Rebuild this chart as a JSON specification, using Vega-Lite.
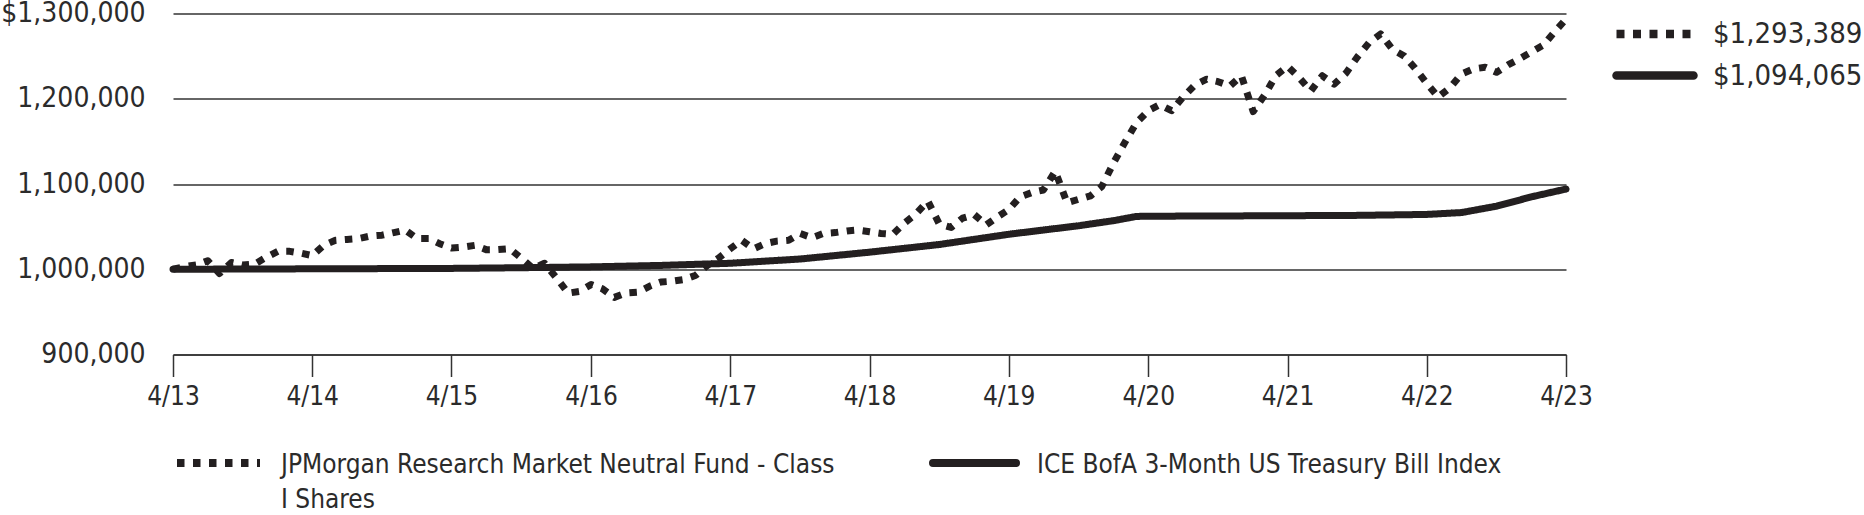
{
  "$schema": "https://vega.github.io/schema/vega-lite/v6.json",
  "width": 1393,
  "height": 341,
  "autosize": {"type": "none"},
  "padding": {"left": 173, "top": 13.5, "right": 298, "bottom": 160.5},
  "background": "white",
  "config": {
    "view": {"stroke": null},
    "font": "DejaVu Sans Condensed, Liberation Sans Narrow, DejaVu Sans"
  },
  "datasets": {
    "ends": [
      {"series": "fund", "end": "$1,293,389"},
      {"series": "index", "end": "$1,094,065"}
    ],
    "main": [
      {"date": "2013-04-01", "series": "fund", "value": 1000000},
      {"date": "2013-05-01", "series": "fund", "value": 1003000},
      {"date": "2013-06-01", "series": "fund", "value": 1005000},
      {"date": "2013-07-01", "series": "fund", "value": 1010000},
      {"date": "2013-08-01", "series": "fund", "value": 995000},
      {"date": "2013-09-01", "series": "fund", "value": 1008000},
      {"date": "2013-10-01", "series": "fund", "value": 1005000},
      {"date": "2013-11-01", "series": "fund", "value": 1006000},
      {"date": "2013-12-01", "series": "fund", "value": 1014000},
      {"date": "2014-01-01", "series": "fund", "value": 1021000},
      {"date": "2014-02-01", "series": "fund", "value": 1021000},
      {"date": "2014-03-01", "series": "fund", "value": 1019000},
      {"date": "2014-04-01", "series": "fund", "value": 1016000},
      {"date": "2014-05-01", "series": "fund", "value": 1028000},
      {"date": "2014-06-01", "series": "fund", "value": 1034000},
      {"date": "2014-07-01", "series": "fund", "value": 1035000},
      {"date": "2014-08-01", "series": "fund", "value": 1036000},
      {"date": "2014-09-01", "series": "fund", "value": 1039000},
      {"date": "2014-10-01", "series": "fund", "value": 1040000},
      {"date": "2014-11-01", "series": "fund", "value": 1043000},
      {"date": "2014-12-01", "series": "fund", "value": 1046000},
      {"date": "2015-01-01", "series": "fund", "value": 1036000},
      {"date": "2015-02-01", "series": "fund", "value": 1036000},
      {"date": "2015-03-01", "series": "fund", "value": 1030000},
      {"date": "2015-04-01", "series": "fund", "value": 1025000},
      {"date": "2015-05-01", "series": "fund", "value": 1026000},
      {"date": "2015-06-01", "series": "fund", "value": 1028000},
      {"date": "2015-07-01", "series": "fund", "value": 1023000},
      {"date": "2015-08-01", "series": "fund", "value": 1023000},
      {"date": "2015-09-01", "series": "fund", "value": 1024000},
      {"date": "2015-10-01", "series": "fund", "value": 1013000},
      {"date": "2015-11-01", "series": "fund", "value": 1001000},
      {"date": "2015-12-01", "series": "fund", "value": 1007000},
      {"date": "2016-01-01", "series": "fund", "value": 990000},
      {"date": "2016-02-01", "series": "fund", "value": 972000},
      {"date": "2016-03-01", "series": "fund", "value": 974000},
      {"date": "2016-04-01", "series": "fund", "value": 982000},
      {"date": "2016-05-01", "series": "fund", "value": 977000},
      {"date": "2016-06-01", "series": "fund", "value": 967000},
      {"date": "2016-07-01", "series": "fund", "value": 972000},
      {"date": "2016-08-01", "series": "fund", "value": 973000},
      {"date": "2016-09-01", "series": "fund", "value": 980000},
      {"date": "2016-10-01", "series": "fund", "value": 985000},
      {"date": "2016-11-01", "series": "fund", "value": 986000},
      {"date": "2016-12-01", "series": "fund", "value": 988000},
      {"date": "2017-01-01", "series": "fund", "value": 993000},
      {"date": "2017-02-01", "series": "fund", "value": 1005000},
      {"date": "2017-03-01", "series": "fund", "value": 1013000},
      {"date": "2017-04-01", "series": "fund", "value": 1024000},
      {"date": "2017-05-01", "series": "fund", "value": 1034000},
      {"date": "2017-06-01", "series": "fund", "value": 1024000},
      {"date": "2017-07-01", "series": "fund", "value": 1030000},
      {"date": "2017-08-01", "series": "fund", "value": 1033000},
      {"date": "2017-09-01", "series": "fund", "value": 1034000},
      {"date": "2017-10-01", "series": "fund", "value": 1042000},
      {"date": "2017-11-01", "series": "fund", "value": 1037000},
      {"date": "2017-12-01", "series": "fund", "value": 1042000},
      {"date": "2018-01-01", "series": "fund", "value": 1043000},
      {"date": "2018-02-01", "series": "fund", "value": 1045000},
      {"date": "2018-03-01", "series": "fund", "value": 1046000},
      {"date": "2018-04-01", "series": "fund", "value": 1044000},
      {"date": "2018-05-01", "series": "fund", "value": 1042000},
      {"date": "2018-06-01", "series": "fund", "value": 1041000},
      {"date": "2018-07-01", "series": "fund", "value": 1054000},
      {"date": "2018-08-01", "series": "fund", "value": 1065000},
      {"date": "2018-09-01", "series": "fund", "value": 1080000},
      {"date": "2018-10-01", "series": "fund", "value": 1053000},
      {"date": "2018-11-01", "series": "fund", "value": 1049000},
      {"date": "2018-12-01", "series": "fund", "value": 1060000},
      {"date": "2019-01-01", "series": "fund", "value": 1064000},
      {"date": "2019-02-01", "series": "fund", "value": 1052000},
      {"date": "2019-03-01", "series": "fund", "value": 1061000},
      {"date": "2019-04-01", "series": "fund", "value": 1070000},
      {"date": "2019-05-01", "series": "fund", "value": 1085000},
      {"date": "2019-06-01", "series": "fund", "value": 1090000},
      {"date": "2019-07-01", "series": "fund", "value": 1093000},
      {"date": "2019-08-01", "series": "fund", "value": 1115000},
      {"date": "2019-09-01", "series": "fund", "value": 1078000},
      {"date": "2019-10-01", "series": "fund", "value": 1082000},
      {"date": "2019-11-01", "series": "fund", "value": 1086000},
      {"date": "2019-12-01", "series": "fund", "value": 1097000},
      {"date": "2020-01-01", "series": "fund", "value": 1125000},
      {"date": "2020-02-01", "series": "fund", "value": 1150000},
      {"date": "2020-03-01", "series": "fund", "value": 1172000},
      {"date": "2020-04-01", "series": "fund", "value": 1186000},
      {"date": "2020-05-01", "series": "fund", "value": 1193000},
      {"date": "2020-06-01", "series": "fund", "value": 1186000},
      {"date": "2020-07-01", "series": "fund", "value": 1202000},
      {"date": "2020-08-01", "series": "fund", "value": 1216000},
      {"date": "2020-09-01", "series": "fund", "value": 1223000},
      {"date": "2020-10-01", "series": "fund", "value": 1220000},
      {"date": "2020-11-01", "series": "fund", "value": 1215000},
      {"date": "2020-12-01", "series": "fund", "value": 1227000},
      {"date": "2021-01-01", "series": "fund", "value": 1185000},
      {"date": "2021-02-01", "series": "fund", "value": 1205000},
      {"date": "2021-03-01", "series": "fund", "value": 1227000},
      {"date": "2021-04-01", "series": "fund", "value": 1238000},
      {"date": "2021-05-01", "series": "fund", "value": 1225000},
      {"date": "2021-06-01", "series": "fund", "value": 1209000},
      {"date": "2021-07-01", "series": "fund", "value": 1227000},
      {"date": "2021-08-01", "series": "fund", "value": 1217000},
      {"date": "2021-09-01", "series": "fund", "value": 1230000},
      {"date": "2021-10-01", "series": "fund", "value": 1249000},
      {"date": "2021-11-01", "series": "fund", "value": 1266000},
      {"date": "2021-12-01", "series": "fund", "value": 1276000},
      {"date": "2022-01-01", "series": "fund", "value": 1258000},
      {"date": "2022-02-01", "series": "fund", "value": 1250000},
      {"date": "2022-03-01", "series": "fund", "value": 1236000},
      {"date": "2022-04-01", "series": "fund", "value": 1218000},
      {"date": "2022-05-01", "series": "fund", "value": 1202000},
      {"date": "2022-06-01", "series": "fund", "value": 1213000},
      {"date": "2022-07-01", "series": "fund", "value": 1229000},
      {"date": "2022-08-01", "series": "fund", "value": 1235000},
      {"date": "2022-09-01", "series": "fund", "value": 1237000},
      {"date": "2022-10-01", "series": "fund", "value": 1231000},
      {"date": "2022-11-01", "series": "fund", "value": 1240000},
      {"date": "2022-12-01", "series": "fund", "value": 1247000},
      {"date": "2023-01-01", "series": "fund", "value": 1255000},
      {"date": "2023-02-01", "series": "fund", "value": 1263000},
      {"date": "2023-03-01", "series": "fund", "value": 1278000},
      {"date": "2023-04-01", "series": "fund", "value": 1293389},
      {"date": "2013-04-01", "series": "index", "value": 1000000},
      {"date": "2014-04-01", "series": "index", "value": 1000500},
      {"date": "2015-04-01", "series": "index", "value": 1001000},
      {"date": "2015-10-01", "series": "index", "value": 1001800},
      {"date": "2016-04-01", "series": "index", "value": 1002800},
      {"date": "2016-10-01", "series": "index", "value": 1004500},
      {"date": "2017-04-01", "series": "index", "value": 1007000},
      {"date": "2017-10-01", "series": "index", "value": 1012000},
      {"date": "2018-04-01", "series": "index", "value": 1020000},
      {"date": "2018-10-01", "series": "index", "value": 1029000},
      {"date": "2019-04-01", "series": "index", "value": 1041000},
      {"date": "2019-10-01", "series": "index", "value": 1051000},
      {"date": "2020-01-01", "series": "index", "value": 1057000},
      {"date": "2020-03-01", "series": "index", "value": 1062000},
      {"date": "2020-06-01", "series": "index", "value": 1062300},
      {"date": "2021-04-01", "series": "index", "value": 1062800},
      {"date": "2021-10-01", "series": "index", "value": 1063200},
      {"date": "2022-04-01", "series": "index", "value": 1064300},
      {"date": "2022-07-01", "series": "index", "value": 1066500},
      {"date": "2022-10-01", "series": "index", "value": 1074000},
      {"date": "2023-01-01", "series": "index", "value": 1085000},
      {"date": "2023-04-01", "series": "index", "value": 1094065}
    ]
  },
  "data": {"name": "main"},
  "transform": [
    {"lookup": "series", "from": {"data": {"name": "ends"}, "key": "series", "fields": ["end"]}}
  ],
  "encoding": {
    "x": {
      "field": "date",
      "type": "temporal",
      "scale": {
        "type": "utc",
        "domain": [
          {"year": 2013, "month": 4, "date": 1, "utc": true},
          {"year": 2023, "month": 4, "date": 1, "utc": true}
        ]
      },
      "axis": {
        "title": null,
        "values": [
          {"year": 2013, "month": 4, "date": 1, "utc": true},
          {"year": 2014, "month": 4, "date": 1, "utc": true},
          {"year": 2015, "month": 4, "date": 1, "utc": true},
          {"year": 2016, "month": 4, "date": 1, "utc": true},
          {"year": 2017, "month": 4, "date": 1, "utc": true},
          {"year": 2018, "month": 4, "date": 1, "utc": true},
          {"year": 2019, "month": 4, "date": 1, "utc": true},
          {"year": 2020, "month": 4, "date": 1, "utc": true},
          {"year": 2021, "month": 4, "date": 1, "utc": true},
          {"year": 2022, "month": 4, "date": 1, "utc": true},
          {"year": 2023, "month": 4, "date": 1, "utc": true}
        ],
        "labelExpr": "utcFormat(datum.value, '%-m/%y')",
        "grid": false,
        "domain": true,
        "domainColor": "#333333",
        "domainWidth": 1.5,
        "ticks": true,
        "tickSize": 22,
        "tickColor": "#333333",
        "tickWidth": 1.5,
        "labelPadding": 7,
        "labelFontSize": 26,
        "labelColor": "#2b2b2b",
        "labelFlush": false,
        "labelOverlap": false
      }
    },
    "y": {
      "field": "value",
      "type": "quantitative",
      "scale": {"domain": [900000, 1300000], "nice": false, "zero": false},
      "axis": {
        "title": null,
        "values": [900000, 1000000, 1100000, 1200000, 1300000],
        "domain": false,
        "ticks": false,
        "grid": true,
        "gridColor": "#333333",
        "gridWidth": 1.5,
        "labelPadding": 28,
        "labelFontSize": 28,
        "labelColor": "#2b2b2b",
        "labelExpr": "datum.value == 1300000 ? '$1,300,000' : format(datum.value, ',')"
      }
    },
    "strokeDash": {
      "field": "series",
      "type": "nominal",
      "scale": {"domain": ["fund", "index"], "range": [[7.5, 8.5], [1, 0]]},
      "legend": {
        "title": null,
        "orient": "none",
        "legendX": 0,
        "legendY": 404,
        "direction": "horizontal",
        "columns": 2,
        "columnPadding": 82,
        "symbolType": "stroke",
        "symbolSize": 6889,
        "symbolStrokeWidth": 8,
        "symbolStrokeColor": "#231f20",
        "labelOffset": 17,
        "labelFontSize": 26,
        "labelColor": "#2b2b2b",
        "labelLimit": 1000,
        "labelBaseline": "alphabetic",
        "labelExpr": "datum.value == 'fund' ? ['JPMorgan Research Market Neutral Fund - Class', 'I Shares'] : ['ICE BofA 3-Month US Treasury Bill Index', ' ']",
        "encode": {
          "labels": {"update": {"dy": {"value": 9.5}, "lineHeight": {"value": 35}}},
          "symbols": {"update": {"strokeCap": {"signal": "datum.value == 'fund' ? 'butt' : 'round'"}}}
        }
      }
    }
  },
  "layer": [
    {
      "transform": [{"filter": "datum.series == 'fund'"}],
      "mark": {"type": "line", "strokeWidth": 7, "strokeCap": "butt", "strokeJoin": "round"},
      "encoding": {
        "color": {
          "field": "end",
          "type": "nominal",
          "scale": {"range": ["#231f20"]},
          "legend": {
            "title": null,
            "orient": "none",
            "legendX": 1439,
            "legendY": -22.5,
            "symbolType": "stroke",
            "symbolSize": 5929,
            "symbolStrokeWidth": 8.5,
            "symbolDash": [8, 8.5],
            "labelOffset": 15,
            "labelFontSize": 29,
            "labelColor": "#2b2b2b",
            "labelLimit": 1000,
            "encode": {"symbols": {"update": {"strokeCap": {"value": "butt"}}}}
          }
        }
      }
    },
    {
      "transform": [{"filter": "datum.series == 'index'"}],
      "mark": {"type": "line", "strokeWidth": 7, "strokeCap": "round", "strokeJoin": "round"},
      "encoding": {
        "color": {
          "field": "end",
          "type": "nominal",
          "scale": {"range": ["#231f20"]},
          "legend": {
            "title": null,
            "orient": "none",
            "legendX": 1439,
            "legendY": 19,
            "symbolType": "stroke",
            "symbolSize": 5929,
            "symbolStrokeWidth": 8.5,
            "labelOffset": 15,
            "labelFontSize": 29,
            "labelColor": "#2b2b2b",
            "labelLimit": 1000,
            "encode": {"symbols": {"update": {"strokeCap": {"value": "round"}, "strokeDash": {"value": [1, 0]}}}}
          }
        }
      }
    }
  ],
  "resolve": {"scale": {"color": "independent"}, "legend": {"color": "independent"}}
}
